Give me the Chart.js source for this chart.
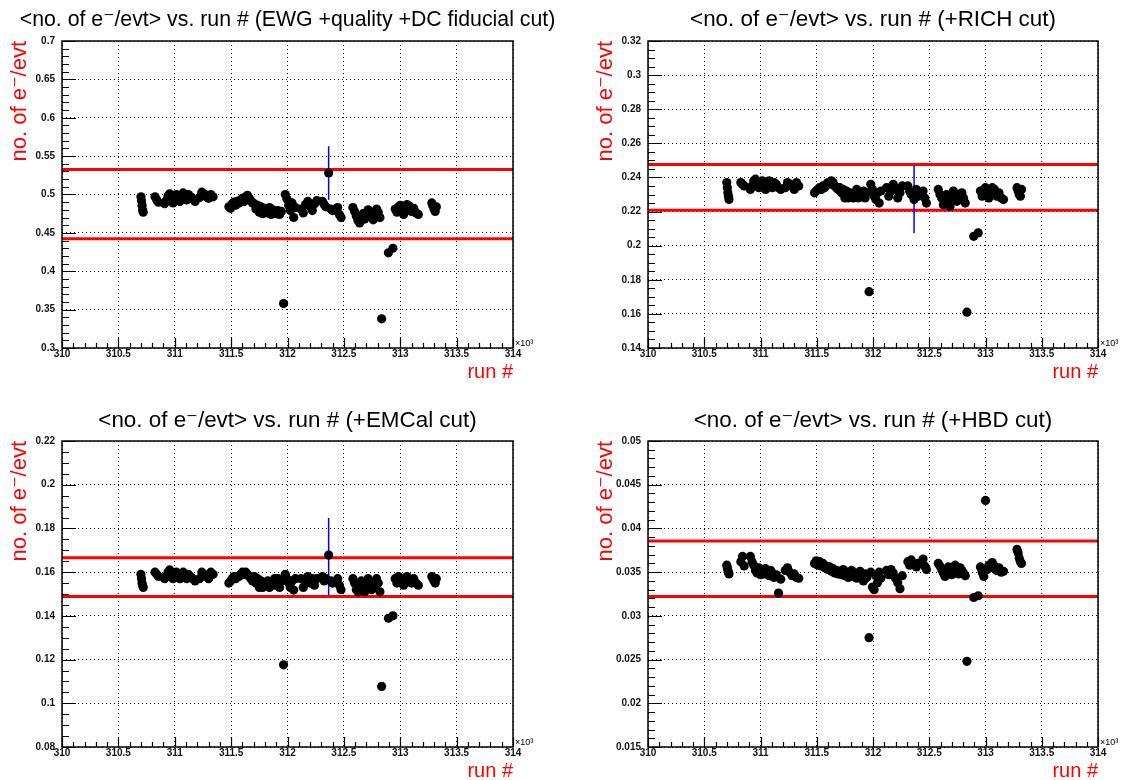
<!DOCTYPE html>
<html>
<head>
<meta charset="utf-8">
<title>no. of e-/evt vs run</title>
<script src="https://cdn.jsdelivr.net/npm/chart.js@4.4.1/dist/chart.umd.min.js"></script>
<style>
  body { margin: 0; background: #fff; }
  .pad { position: absolute; width: 566px; height: 390px; }
</style>
</head>
<body>
<div class="pad" style="left:0;top:0"><canvas id="c1" width="566" height="390"></canvas></div>
<div class="pad" style="left:566px;top:0"><canvas id="c2" width="566" height="390"></canvas></div>
<div class="pad" style="left:0;top:390px"><canvas id="c3" width="566" height="390"></canvas></div>
<div class="pad" style="left:566px;top:390px"><canvas id="c4" width="566" height="390"></canvas></div>
<script>
// run numbers (same runs in all four pads)
const runs = [
  310700, 310705, 310710, 310715, 310720,
  310825, 310840, 310855,
  310910, 310925, 310940, 310955, 310970, 310985, 311000, 311015, 311030, 311045, 311060, 311075, 311090, 311105, 311120, 311140, 311160, 311180,
  311220, 311240, 311260, 311280, 311300, 311320, 311340,
  311480, 311495, 311510, 311525, 311540, 311555, 311570, 311585, 311600, 311615, 311630, 311645, 311660, 311675, 311690,
  311705, 311720, 311735, 311750, 311765, 311780, 311795, 311810, 311825, 311840, 311855, 311870, 311885, 311900, 311915, 311930, 311945,
  311965,
  311980, 311995, 312010, 312025, 312040, 312055, 312070,
  312120, 312140, 312160, 312180, 312200, 312220, 312240, 312260,
  312310, 312325, 312340, 312365, 312385, 312400,
  312445, 312460, 312475,
  312580, 312595, 312610, 312625, 312640, 312655, 312670, 312685, 312700, 312715, 312730, 312745, 312760, 312775, 312790, 312805, 312820,
  312835,
  312895, 312935,
  312955, 312970, 312985, 313000, 313015, 313030, 313045, 313060, 313080, 313100, 313120, 313140, 313160,
  313280, 313290, 313300, 313310, 313320
];

// <no. of e-/evt>, EWG + quality + DC fiducial cut
const eDC = [
  0.497, 0.492, 0.486, 0.480, 0.477,
  0.497, 0.493, 0.490,
  0.488, 0.492, 0.498, 0.501, 0.495, 0.489, 0.493, 0.500, 0.497, 0.491, 0.499, 0.502, 0.496, 0.493, 0.500, 0.497, 0.494, 0.491,
  0.496, 0.503, 0.501, 0.497, 0.495, 0.500, 0.497,
  0.484, 0.482, 0.488, 0.490, 0.486, 0.491, 0.489, 0.493, 0.495, 0.491, 0.497, 0.499, 0.495, 0.492, 0.489,
  0.488, 0.481, 0.486, 0.477, 0.484, 0.475, 0.482, 0.479, 0.476, 0.483, 0.474, 0.480, 0.477, 0.475, 0.479, 0.474, 0.478,
  0.358,
  0.500, 0.494, 0.486, 0.479, 0.489, 0.470, 0.483,
  0.481, 0.476, 0.487, 0.491, 0.484, 0.479, 0.488, 0.492,
  0.491, 0.487, 0.484, 0.528, 0.481, 0.479,
  0.483, 0.474, 0.470,
  0.483, 0.478, 0.472, 0.466, 0.463, 0.470, 0.475, 0.468, 0.473, 0.480, 0.476, 0.471, 0.467, 0.474, 0.481, 0.477, 0.470,
  0.338,
  0.424, 0.430,
  0.481, 0.477, 0.484, 0.486, 0.480, 0.474, 0.483, 0.487, 0.485, 0.478, 0.482, 0.476, 0.474,
  0.489, 0.485, 0.481, 0.478, 0.484
];

// + RICH cut
const eRICH = [
  0.237, 0.234, 0.231, 0.229, 0.227,
  0.237, 0.236, 0.235,
  0.233, 0.235, 0.238, 0.239, 0.236, 0.234, 0.237, 0.238, 0.235, 0.233, 0.237, 0.238, 0.236, 0.234, 0.237, 0.236, 0.234, 0.233,
  0.234, 0.237, 0.236, 0.235, 0.233, 0.237, 0.235,
  0.231, 0.232, 0.233, 0.234, 0.233, 0.235, 0.234, 0.236, 0.237, 0.236, 0.238, 0.237, 0.235, 0.234, 0.233,
  0.234, 0.231, 0.233, 0.228, 0.232, 0.228, 0.231, 0.229, 0.228, 0.231, 0.233, 0.228, 0.231, 0.229, 0.232, 0.228, 0.231,
  0.173,
  0.236, 0.233, 0.229, 0.227, 0.231, 0.225, 0.232,
  0.234, 0.229, 0.232, 0.236, 0.233, 0.228, 0.231, 0.235,
  0.235, 0.232, 0.230, 0.227, 0.233, 0.229,
  0.232, 0.228, 0.225,
  0.233, 0.230, 0.228, 0.224, 0.226, 0.230, 0.227, 0.223, 0.228, 0.232, 0.229, 0.226, 0.230, 0.227, 0.231, 0.228, 0.225,
  0.161,
  0.2055, 0.2075,
  0.232, 0.229, 0.233, 0.234, 0.231, 0.228, 0.232, 0.234, 0.233, 0.229, 0.231, 0.228, 0.227,
  0.234, 0.232, 0.230, 0.229, 0.233
];

// + EMCal cut
const eEMC = [
  0.159, 0.157, 0.155, 0.154, 0.153,
  0.160, 0.159, 0.158,
  0.157, 0.158, 0.160, 0.161, 0.159, 0.157, 0.158, 0.160, 0.159, 0.157, 0.159, 0.160, 0.158, 0.157, 0.159, 0.158, 0.157, 0.156,
  0.157, 0.160, 0.159, 0.158, 0.157, 0.160, 0.159,
  0.155, 0.156, 0.157, 0.158, 0.157, 0.158, 0.158, 0.159, 0.160, 0.159, 0.160, 0.159, 0.158, 0.157, 0.156,
  0.158, 0.155, 0.157, 0.153, 0.156, 0.153, 0.155, 0.154, 0.156, 0.153, 0.155, 0.154, 0.157, 0.154, 0.157, 0.153, 0.156,
  0.1176,
  0.159, 0.157, 0.155, 0.153, 0.156, 0.1518, 0.157,
  0.157, 0.153, 0.156, 0.158, 0.155, 0.157, 0.154, 0.157,
  0.158, 0.156, 0.157, 0.1678, 0.156, 0.155,
  0.157, 0.154, 0.152,
  0.157, 0.155, 0.152, 0.151, 0.154, 0.156, 0.153, 0.151, 0.155, 0.157, 0.154, 0.152, 0.155, 0.153, 0.157, 0.155, 0.151,
  0.1077,
  0.1389, 0.1400,
  0.157, 0.155, 0.158, 0.157, 0.156, 0.154, 0.157, 0.158, 0.156, 0.155, 0.157, 0.155, 0.154,
  0.158, 0.157, 0.156, 0.155, 0.157
];

// + HBD cut
const eHBD = [
  0.0358, 0.0355, 0.0352, 0.0350, 0.0348,
  0.0362, 0.0368, 0.0357,
  0.0368, 0.0362, 0.0358, 0.0352, 0.0349, 0.0355, 0.0347, 0.0351, 0.0348, 0.0354, 0.0350, 0.0346, 0.0352, 0.0349, 0.0344, 0.0347, 0.0326, 0.0342,
  0.0352, 0.0355, 0.0350, 0.0346, 0.0348, 0.0344, 0.0343,
  0.0360, 0.0363, 0.0358, 0.0362, 0.0357, 0.0360, 0.0355, 0.0357, 0.0353, 0.0356, 0.0351, 0.0354, 0.0349, 0.0352, 0.0348,
  0.0351, 0.0347, 0.0353, 0.0346, 0.0350, 0.0344, 0.0348, 0.0352, 0.0345, 0.0349, 0.0343, 0.0347, 0.0351, 0.0345, 0.0340, 0.0348, 0.0344,
  0.0275,
  0.0350, 0.0333, 0.0330, 0.0346, 0.0338, 0.0350, 0.0343,
  0.0352, 0.0347, 0.0353, 0.0349, 0.0343, 0.0338, 0.0331, 0.0346,
  0.0362, 0.0358, 0.0364, 0.0359, 0.0356, 0.0360,
  0.0365, 0.0357, 0.0353,
  0.0360, 0.0357, 0.0353, 0.0349, 0.0345, 0.0352, 0.0356, 0.0350, 0.0347, 0.0354, 0.0358, 0.0351, 0.0348, 0.0355, 0.0352, 0.0349, 0.0346,
  0.0248,
  0.0321, 0.0323,
  0.0356, 0.0350, 0.0345, 0.0432, 0.0353, 0.0358, 0.0355, 0.0361, 0.0357, 0.0352, 0.0355, 0.0350, 0.0351,
  0.0376, 0.0372, 0.0366, 0.0362, 0.0360
];

// lower / upper cut lines (red)
const cutDC = [0.4422, 0.5326];
const cutRICH = [0.2208, 0.2476];
const cutEMC = [0.1488, 0.1666];
const cutHBD = [0.0322, 0.03855];

// the one run drawn with its error bar
const errRun = 312365;
const errDC = [0.493, 0.563];
const errRICH = [0.2075, 0.247];
const errEMC = [0.1495, 0.1848];

// y axis ranges: min, max, labelled step, small tick step
const yDC = [0.3, 0.7, 0.05, 0.01];
const yRICH = [0.14, 0.32, 0.02, 0.005];
const yEMC = [0.08, 0.22, 0.02, 0.005];
const yHBD = [0.015, 0.05, 0.005, 0.001];

// x axis: runs, labelled in units of 10^3
const xRange = [310000, 314000];
const xStep = 500;
const xMinor = 100;

const titles = [
  '<no. of e\u207B/evt> vs. run # (EWG +quality +DC fiducial cut)',
  '<no. of e\u207B/evt> vs. run # (+RICH cut)',
  '<no. of e\u207B/evt> vs. run # (+EMCal cut)',
  '<no. of e\u207B/evt> vs. run # (+HBD cut)'
];
const yTitle = 'no. of e\u207B/evt';
const xTitle = 'run #';

const FONT = "'Liberation Sans', 'DejaVu Sans', sans-serif";
Chart.defaults.font.family = FONT;

function isMajor(v, step) {
  const q = v / step;
  return Math.abs(q - Math.round(q)) < 1e-6;
}

// ROOT style frame: box, inward ticks, title and the x10^3 note
const frameStuff = {
  id: 'frameStuff',
  afterDraw(chart, args, opts) {
    const {ctx, chartArea: a, scales: {x, y}} = chart;
    ctx.save();
    ctx.strokeStyle = '#000';
    ctx.lineWidth = 1.2;
    ctx.beginPath();
    y.ticks.forEach(t => {
      const py = Math.round(y.getPixelForValue(t.value)) + 0.5;
      const len = isMajor(t.value, opts.yStep) ? 14 : 7;
      ctx.moveTo(a.left, py);
      ctx.lineTo(a.left + len, py);
    });
    x.ticks.forEach(t => {
      const px = Math.round(x.getPixelForValue(t.value)) + 0.5;
      const len = isMajor(t.value, xStep) ? 10 : 5;
      ctx.moveTo(px, a.bottom);
      ctx.lineTo(px, a.bottom - len);
    });
    ctx.stroke();
    ctx.lineWidth = 1.5;
    ctx.strokeRect(a.left, a.top, a.right - a.left, a.bottom - a.top);

    ctx.fillStyle = '#000';
    ctx.font = opts.titleSize + 'px ' + FONT;
    ctx.textAlign = 'center';
    ctx.textBaseline = 'alphabetic';
    ctx.fillText(opts.title, (a.left + a.right) / 2, opts.titleY);

    ctx.font = '9px ' + FONT;
    ctx.textAlign = 'left';
    ctx.fillText('\u00D710\u00B3', a.right + 2, a.bottom - 2);
    ctx.restore();
  }
};

function makePad(id, vals, cut, err, yr, title, lay) {
  const datasets = [{
    data: runs.map((r, i) => ({x: r, y: vals[i]})),
    backgroundColor: '#000',
    borderWidth: 0,
    pointRadius: 4.6,
    order: 0
  }];
  cut.forEach(c => datasets.push({
    data: [{x: xRange[0], y: c}, {x: xRange[1], y: c}],
    showLine: true,
    borderColor: '#ff0000',
    borderWidth: 3,
    pointRadius: 0,
    order: 2
  }));
  if (err) {
    datasets.push({
      data: [{x: errRun, y: err[0]}, {x: errRun, y: err[1]}],
      showLine: true,
      borderColor: '#0000ff',
      borderWidth: 1.5,
      pointRadius: 0,
      order: 1
    });
  }

  new Chart(document.getElementById(id), {
    type: 'scatter',
    data: {datasets},
    options: {
      responsive: false,
      animation: false,
      devicePixelRatio: 1,
      layout: {padding: {left: lay.left, right: lay.right, top: lay.top, bottom: lay.bottom}},
      plugins: {
        legend: {display: false},
        tooltip: {enabled: false},
        frameStuff: {title, titleY: lay.titleY, titleSize: lay.titleSize, yStep: yr[2]}
      },
      scales: {
        x: {
          type: 'linear',
          min: xRange[0],
          max: xRange[1],
          afterFit: s => { s.height = lay.xh; },
          ticks: {
            stepSize: xMinor,
            autoSkip: false,
            maxRotation: 0,
            minRotation: 0,
            padding: 0,
            color: '#111',
            font: {size: 10, weight: 'bold'},
            callback: v => isMajor(v, xStep) ? String(v / 1000) : ''
          },
          grid: {
            drawTicks: false,
            lineWidth: 1,
            color: c => (c.tick && isMajor(c.tick.value, xStep)) ? '#000' : 'rgba(0,0,0,0)'
          },
          border: {display: false, dash: [1, 3]},
          title: {
            display: true,
            text: xTitle,
            align: 'end',
            color: '#ff0000',
            padding: 0,
            font: {size: 20, lineHeight: 0.9}
          }
        },
        y: {
          type: 'linear',
          min: yr[0],
          max: yr[1],
          afterFit: s => { s.width = 62; },
          ticks: {
            stepSize: yr[3],
            precision: 4,
            autoSkip: false,
            padding: 7,
            color: '#111',
            font: {size: 10, weight: 'bold'},
            callback: v => isMajor(v, yr[2]) ? String(Math.round(v * 1e6) / 1e6) : ''
          },
          grid: {
            drawTicks: false,
            lineWidth: 1,
            color: c => (c.tick && isMajor(c.tick.value, yr[2])) ? '#000' : 'rgba(0,0,0,0)'
          },
          border: {display: false, dash: [1, 3]},
          title: {
            display: true,
            text: yTitle,
            align: 'end',
            color: '#ff0000',
            padding: {top: 7, bottom: 0},
            font: {size: 22, lineHeight: 1.2}
          }
        }
      }
    },
    plugins: [frameStuff]
  });
}

makePad('c1', eDC, cutDC, errDC, yDC, titles[0], {left: 0, right: 53, top: 41, bottom: 9, xh: 33, titleY: 26, titleSize: 21.3});
makePad('c2', eRICH, cutRICH, errRICH, yRICH, titles[1], {left: 20, right: 34, top: 41, bottom: 9, xh: 33, titleY: 26, titleSize: 22.4});
makePad('c3', eEMC, cutEMC, errEMC, yEMC, titles[2], {left: 0, right: 53, top: 51, bottom: 0, xh: 33, titleY: 37, titleSize: 22.4});
makePad('c4', eHBD, cutHBD, null, yHBD, titles[3], {left: 20, right: 34, top: 51, bottom: 0, xh: 33, titleY: 37, titleSize: 22.4});
</script>
</body>
</html>
